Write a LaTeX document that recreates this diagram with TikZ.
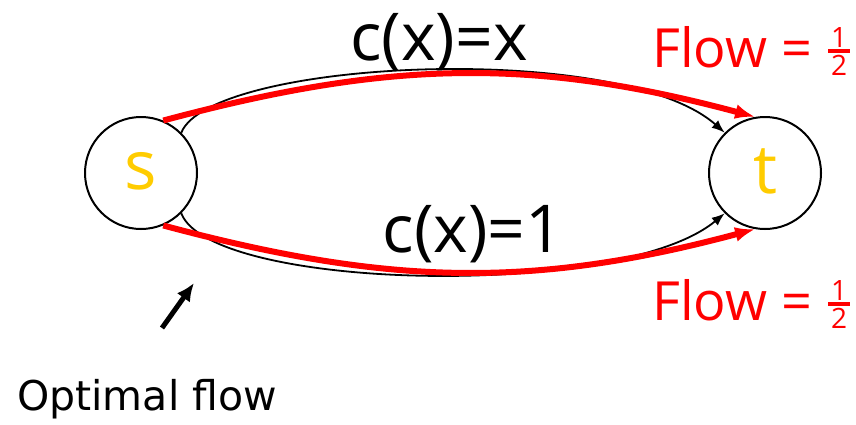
\documentclass[tikz,border=0pt]{standalone}
\usepackage{fontspec}
\newfontfamily\comic{Open Sans}
\newfontfamily\tah{DejaVu Sans}
\usetikzlibrary{arrows.meta}
\definecolor{gold}{RGB}{255,204,0}
\definecolor{flowred}{RGB}{255,0,0}
\newcommand{\halfsym}{\raisebox{-8pt}{\fontsize{28}{28}\selectfont\vbox{\hbox to 22pt{\hss 1\hss}\kern2pt\hrule height 3.5pt\kern2pt\hbox to 22pt{\hss 2\hss}}}}
\begin{document}
\begin{tikzpicture}[x=1pt,y=-1pt,
  vertex/.style={circle,draw,line width=2pt,minimum size=112pt,inner sep=0pt,text=gold,font=\comic\fontsize{68}{68}\selectfont},
  cost/.style={inner sep=0pt,anchor=base,font=\comic\fontsize{66}{66}\selectfont},
  flowlab/.style={inner sep=0pt,anchor=base west,text=flowred,font=\comic\fontsize{54}{54}\selectfont},
  edge/.style={line width=1.8pt,-{Latex[length=13pt,width=10pt]}},
  flow/.style={line width=6pt,draw=flowred,-{Latex[length=20pt,width=15pt]}}]
\useasboundingbox (0,0) rectangle (856,424);
\node[vertex] (s) at (141,173) {\raisebox{4pt}{s}};
\node[vertex] (t) at (765,173) {\raisebox{4pt}{t}};
\draw[edge] (s.45) .. controls +(29,-73) and +(-105,-93) .. (t.135);
\draw[edge] (s.-45) .. controls +(29,77) and +(-105,87) .. (t.-135);
\draw[flow] (s.67) to[out=15,in=165] (t.100);
\draw[flow] (s.-67) to[out=-15,in=-165] (t.-100);
\node[cost] (cx) at (439,60) {c(x)=x};
\node[cost] (c1) at (473,252) {c(x)=1};
\node[flowlab] (f1) at (652,67) {Flow =\hspace{16pt}\halfsym};
\node[flowlab] (f2) at (652,320) {Flow =\hspace{16pt}\halfsym};
\node[inner sep=0pt,anchor=base west,font=\tah\fontsize{41}{41}\selectfont] (opt) at (17,410) {Optimal flow};
\coordinate (optail) at (162,328);
\coordinate (optip) at (194,283);
\draw[line width=5pt,-{Latex[length=18pt,width=16pt]}] (optail) -- (optip);
\end{tikzpicture}
\end{document}
